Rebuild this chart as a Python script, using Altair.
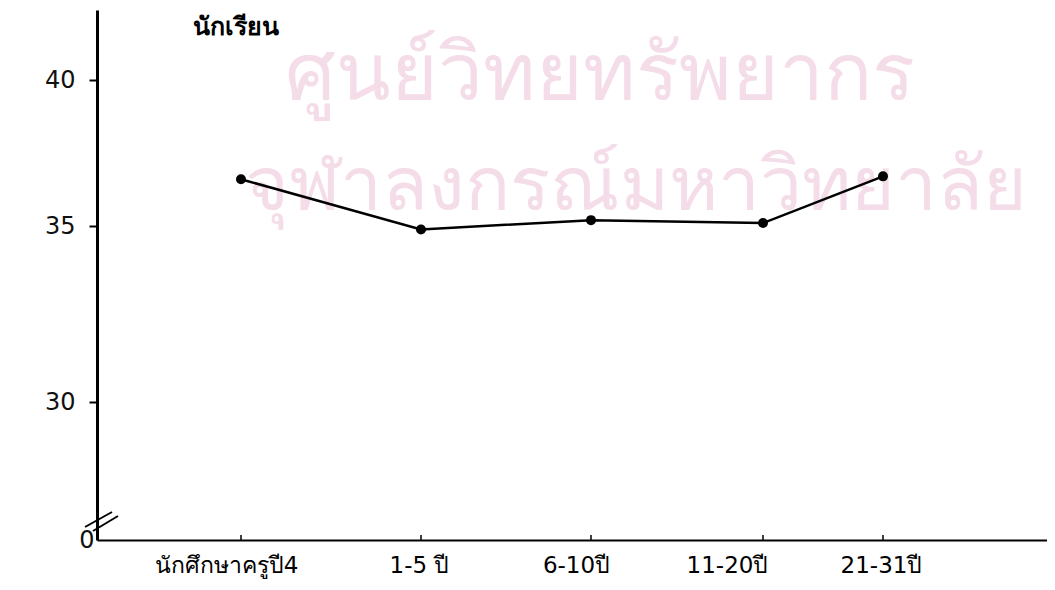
import altair as alt
import pandas as pd

categories = ["นักศึกษาครูปี4", "1-5 ปี", "6-10ปี", "11-20ปี", "21-31ปี"]
scores = [36.6, 34.9, 35.2, 35.1, 36.7]
y_ticks = [0, 30, 35, 40]
y_title = "นักเรียน"
watermark = ["ศูนย์วิทยทรัพยากร", "จุฬาลงกรณ์มหาวิทยาลัย"]

df = pd.DataFrame({"idx": list(range(len(categories))), "category": categories, "score": scores})
ticks_df = pd.DataFrame({"idx": list(range(len(categories))), "y0": [0] * len(categories), "y1": [1.1] * len(categories)})

FONT = "DejaVu Sans"
label_expr = "[" + ",".join("'" + c + "'" for c in categories) + "][datum.value]"

xscale = alt.Scale(domain=[-0.8, 0, 1, 2, 3, 4, 5.05], range=[0, 144, 324, 494, 666, 786, 950],
                   nice=False, zero=False)
yscale = alt.Scale(domain=[0, 30, 35, 40, 42.4], range=[530, 392, 216, 70, 0], nice=False, zero=False)

label_offset = {
    "condition": [
        {"test": "datum.value == 3", "value": -36},
        {"test": "datum.value == 0 || datum.value == 2", "value": -15},
    ],
    "value": -2,
}

x_enc = alt.X("idx:Q", scale=xscale,
              axis=alt.Axis(values=list(range(len(categories))), labelExpr=label_expr, title=None,
                            grid=False, ticks=False, domainColor="black", domainWidth=2,
                            labelFontSize=23, labelFont=FONT, labelColor="black", labelPadding=14,
                            labelFlush=False, labelOffset=label_offset))
y_enc = alt.Y("score:Q", scale=yscale,
              axis=alt.Axis(values=y_ticks, title=y_title, titleAngle=0, titleX=95, titleY=24,
                            titleAlign="left", titleBaseline="alphabetic", titleFontSize=25,
                            titleFont=FONT, titleFontWeight="bold", titleColor="black",
                            grid=False, domainColor="black", domainWidth=3, tickColor="black",
                            tickSize={"condition": {"test": "datum.value == 0", "value": 0}, "value": 8},
                            tickWidth=2, labelFontSize=24, labelFont=FONT,
                            labelColor="#111",
                            labelPadding={"condition": {"test": "datum.value == 0", "value": 3}, "value": 14}))

wm = alt.Chart(pd.DataFrame({"t": [watermark[0]]})).mark_text(
    fontSize=80, font=FONT, color="#f4dce8", align="left", baseline="alphabetic"
).encode(text="t:N", x=alt.value(188), y=alt.value(90))
wm2 = alt.Chart(pd.DataFrame({"t": [watermark[1]]})).mark_text(
    fontSize=75, font=FONT, color="#f4dce8", align="left", baseline="alphabetic"
).encode(text="t:N", x=alt.value(148), y=alt.value(200))

line = alt.Chart(df).mark_line(color="black", strokeWidth=2.5).encode(x=x_enc, y=y_enc)
pts = alt.Chart(df).mark_circle(color="black", size=100, opacity=1).encode(x="idx:Q", y="score:Q")
xt = alt.Chart(ticks_df).mark_rule(color="black", strokeWidth=1.5).encode(x="idx:Q", y="y0:Q", y2="y1:Q")

brk1 = alt.Chart(pd.DataFrame({"a": [0]})).mark_rule(color="black", strokeWidth=2).encode(
    x=alt.value(-12), x2=alt.value(15), y=alt.value(517), y2=alt.value(502))
brk2 = alt.Chart(pd.DataFrame({"a": [0]})).mark_rule(color="black", strokeWidth=2).encode(
    x=alt.value(-4), x2=alt.value(21), y=alt.value(521), y2=alt.value(506))

chart = alt.layer(wm, wm2, line, pts, xt, brk1, brk2).properties(
    width=950, height=530,
    autosize=alt.AutoSizeParams(type="none"),
    padding={"left": 89, "top": 2, "right": 0, "bottom": 40},
    background="white",
).configure_view(stroke=None)

chart.save("out.html", embed_options={"renderer": "svg", "actions": False})
